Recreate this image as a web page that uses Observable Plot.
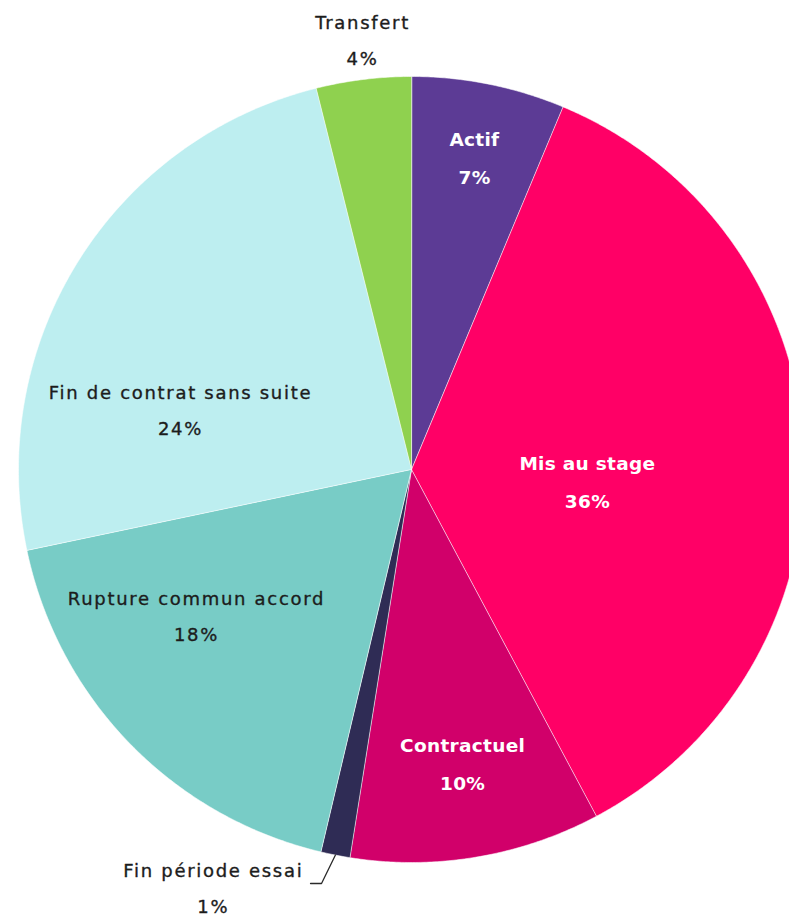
<!DOCTYPE html>
<html>
<head>
<meta charset="utf-8">
<script src="https://cdn.jsdelivr.net/npm/d3@7"></script>
<script src="https://cdn.jsdelivr.net/npm/@observablehq/plot@0.6"></script>
<style>
  html, body { margin: 0; padding: 0; background: #fff; overflow: hidden; }
</style>
</head>
<body>
<div id="chart"></div>
<script>
// ---- data ----
const categories = ["Actif", "Mis au stage", "Contractuel", "Fin période essai", "Rupture commun accord", "Fin de contrat sans suite", "Transfert"];
const shares = [6.3, 35.9, 10.3, 1.2, 18.0, 24.4, 3.9];
const pctLabels = ["7%", "36%", "10%", "1%", "18%", "24%", "4%"];

// ---- styling / layout ----
const colors = ["#5c3b95", "#ff0066", "#d1006a", "#2f2c55", "#78ccc6", "#bdeef0", "#8fd14f"];
const boldWhite = [true, true, true, false, false, false, false];
// label anchor placement in polar form (radius as fraction of pie radius, degrees clockwise from top)
const labelR = [0.807, 0.449, 0.764, 1.18, 0.664, 0.606, 1.0975];
const labelDeg = [11.45, 94.5, 170.2, 205.3, 235.5, 284.1, 353.48];

const W = 789, H = 918, CX = 411, CY = 469, R = 393;

const pie = d3.pie().sort(null).value(d => d)(shares);
const rad = Math.PI / 180;

const slices = pie.map((p, i) => {
  const pts = [{x: 0, y: 0}];
  const n = Math.max(2, Math.ceil((p.endAngle - p.startAngle) / (0.4 * rad)));
  for (let k = 0; k <= n; k++) {
    const a = p.startAngle + (p.endAngle - p.startAngle) * k / n;
    pts.push({x: Math.sin(a), y: Math.cos(a)});
  }
  return {name: categories[i], color: colors[i], pts};
});

const labels = categories.map((c, i) => ({
  name: c,
  pct: pctLabels[i],
  x: labelR[i] * Math.sin(labelDeg[i] * rad),
  y: labelR[i] * Math.cos(labelDeg[i] * rad),
  bold: boldWhite[i]
}));

// connector for the tiny slice
const iFPE = 3;
const midFPE = (pie[iFPE].startAngle + pie[iFPE].endAngle) / 2;
const bendA = midFPE + 1.1 * rad;
const c1 = {x: 1.078 * Math.sin(bendA), y: 1.078 * Math.cos(bendA)};
const connector = [
  {x: Math.sin(midFPE), y: Math.cos(midFPE)},
  c1,
  {x: c1.x - 0.028, y: c1.y}
];

const normal = labels.filter(d => !d.bold);
const bold = labels.filter(d => d.bold);

const chart = Plot.plot({
  width: W,
  height: H,
  margin: 0,
  x: {axis: null, domain: [-CX / R, (W - CX) / R]},
  y: {axis: null, domain: [(CY - H) / R, CY / R]},
  style: {fontFamily: "DejaVu Sans", background: "white", overflow: "hidden"},
  marks: [
    ...slices.map(s => Plot.line(s.pts, {
      x: "x", y: "y", curve: "linear-closed",
      fill: s.color, stroke: "white", strokeWidth: 1, strokeOpacity: 0.55
    })),
    Plot.line(connector, {x: "x", y: "y", stroke: "#2a2a2a", strokeWidth: 1.3}),
    Plot.text(normal, {x: "x", y: "y", text: "name", dy: -18, fill: "#1c1c1c", stroke: "#1c1c1c", strokeWidth: 0.35, fontSize: 18}),
    Plot.text(normal, {x: "x", y: "y", text: "pct", dy: 18, fill: "#1c1c1c", stroke: "#1c1c1c", strokeWidth: 0.35, fontSize: 18}),
    Plot.text(bold, {x: "x", y: "y", text: "name", dy: -19, fill: "white", fontSize: 18.5, fontWeight: "bold"}),
    Plot.text(bold, {x: "x", y: "y", text: "pct", dy: 19, fill: "white", fontSize: 18.5, fontWeight: "bold"})
  ]
});

d3.select(chart).selectAll('g[font-size="18"] text').style("letter-spacing", "1.7px");
d3.select(chart).selectAll('g[font-size="18.5"] text').style("letter-spacing", "0.3px");

document.getElementById("chart").appendChild(chart);
</script>
</body>
</html>
